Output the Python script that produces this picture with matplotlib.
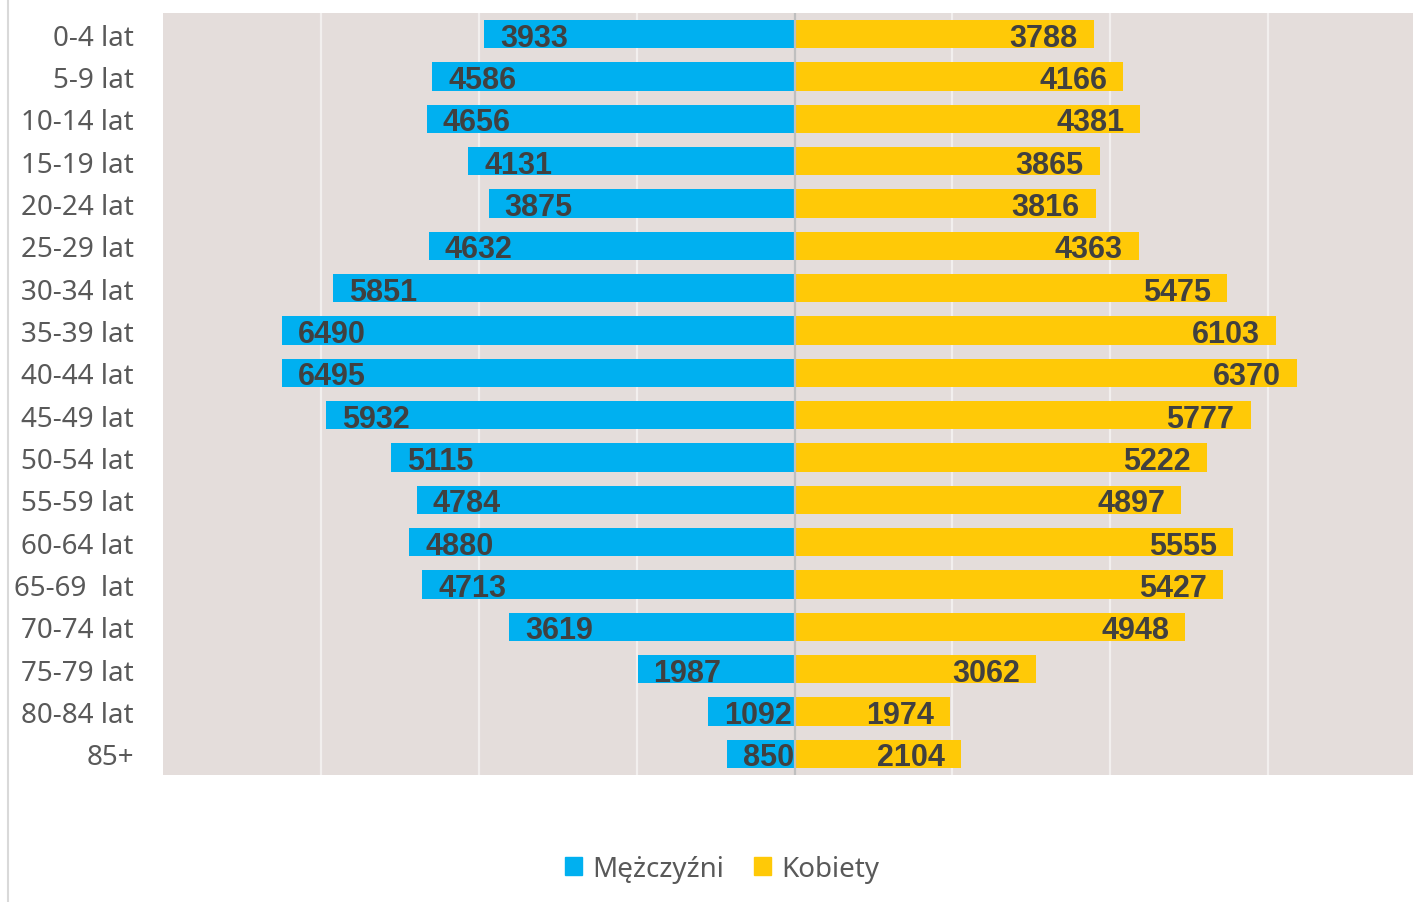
import matplotlib
matplotlib.use('Agg')
import matplotlib.pyplot as plt
from matplotlib.patches import Patch
from matplotlib.lines import Line2D
import numpy as np

# dane
grupy = ['0-4 lat', '5-9 lat', '10-14 lat', '15-19 lat', '20-24 lat', '25-29 lat',
         '30-34 lat', '35-39 lat', '40-44 lat', '45-49 lat', '50-54 lat', '55-59 lat',
         '60-64 lat', '65-69  lat', '70-74 lat', '75-79 lat', '80-84 lat', '85+']
mezczyzni = [3933, 4586, 4656, 4131, 3875, 4632, 5851, 6490, 6495, 5932, 5115, 4784,
             4880, 4713, 3619, 1987, 1092, 850]
kobiety = [3788, 4166, 4381, 3865, 3816, 4363, 5475, 6103, 6370, 5777, 5222, 4897,
           5555, 5427, 4948, 3062, 1974, 2104]

niebieski = '#00B0F0'
zolty = '#FFC907'
tlo = '#E4DDDB'

fig = plt.figure(figsize=(14.13, 9.03), dpi=100)
ax = fig.add_axes([163/1413, 1-776/903, 1263/1413, 762/903])
ax.set_facecolor(tlo)

y = np.arange(len(grupy))
ax.barh(y, -np.array(mezczyzni), height=0.67, color=niebieski, zorder=3)
ax.barh(y, kobiety, height=0.67, color=zolty, zorder=3)

# siatka
for g in [-6000, -4000, -2000, 2000, 4000, 6000]:
    ax.axvline(g, color='#F2EFEE', linewidth=1.6, zorder=1)
ax.axvline(0, color='#BFBFBF', linewidth=1.6, zorder=4)

# etykiety danych
for i in range(len(grupy)):
    ax.annotate(str(mezczyzni[i]), xy=(-mezczyzni[i], i), xytext=(11.5, -2.5),
                textcoords='offset points', ha='left', va='center',
                fontsize=22, fontweight='bold', color='#404040',
                family='Liberation Sans', zorder=5)
    ax.annotate(str(kobiety[i]), xy=(kobiety[i], i), xytext=(-11.5, -2.5),
                textcoords='offset points', ha='right', va='center',
                fontsize=22, fontweight='bold', color='#404040',
                family='Liberation Sans', zorder=5)

ax.set_xlim(-8000, 8000)
ax.set_ylim(len(grupy) - 0.5, -0.5)
ax.set_yticks(y)
ax.set_yticklabels(grupy, fontsize=20, color='#595959', family='Noto Sans')
ax.tick_params(axis='y', length=0, pad=21)
ax.set_xticks([])
for s in ax.spines.values():
    s.set_visible(False)

# lewa ramka wykresu
fig.add_artist(Line2D([8/1413, 8/1413], [0, 1], color='#D9D9D9', linewidth=1.5,
                      transform=fig.transFigure))

uchwyty = [Patch(color=niebieski), Patch(color=zolty)]
fig.legend(uchwyty, ['Mężczyźni', 'Kobiety'], loc='center', bbox_to_anchor=(0.511, 0.037),
           ncol=2, frameon=False, handlelength=0.62, handleheight=0.62,
           handletextpad=0.35, columnspacing=1.1,
           prop={'family': 'Noto Sans', 'size': 20}, labelcolor='#595959')

fig.savefig('out.png', dpi=100)
